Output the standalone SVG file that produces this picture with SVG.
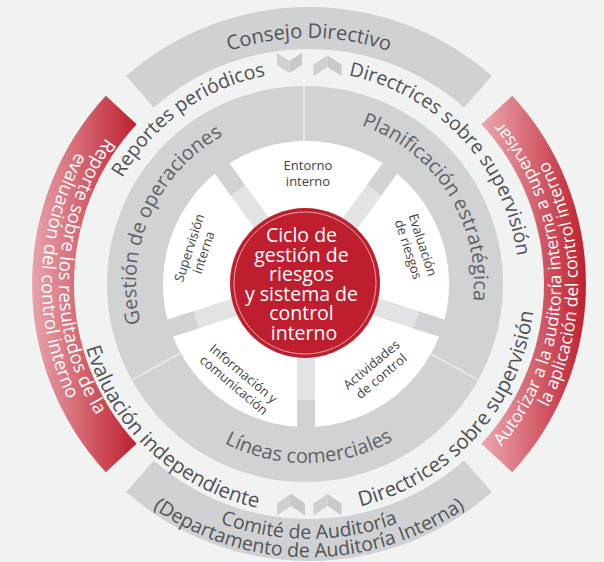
<svg xmlns="http://www.w3.org/2000/svg" width="604" height="562" viewBox="0 0 604 562">
<style>
text{font-family:"Open Sans","Noto Sans","Liberation Sans",sans-serif;}
.band{fill:#d0d1d3}
.t-band{font-size:20px;fill:#535457}
.t-ring{fill:#4f5053}
.t-disk{font-size:20px;fill:#616265}
.t-red{fill:#ffffff}
.petal{fill:#ffffff}
.t-petal{font-size:13px;fill:#3f3f41}
.div{stroke:#e6e7e8;stroke-width:2;fill:none}
.chev-l{fill:#cfd0d2}
.chev-r{fill:#c8c9cb}
</style>
<defs>
<linearGradient id="gL" gradientUnits="userSpaceOnUse" x1="30" y1="0" x2="138" y2="0">
<stop offset="0" stop-color="#e9a6ae"/><stop offset="1" stop-color="#be1e2d"/>
</linearGradient>
<linearGradient id="gR" gradientUnits="userSpaceOnUse" x1="480" y1="0" x2="588" y2="0">
<stop offset="0" stop-color="#eba9b1"/><stop offset="1" stop-color="#be1e2d"/>
</linearGradient>
<path id="p-consejo" d="M66.7,241.3 A246,246 0 0 1 551.3,241.3"/>
<path id="p-comite1" d="M57.9,328.3 A255,255 0 0 0 560.1,328.3"/>
<path id="p-comite2" d="M40.1,331.4 A273,273 0 0 0 577.9,331.4"/>
<path id="p-reportes" d="M114.6,375.3 A212,212 0 0 1 454.6,132.8"/>
<path id="p-dir1" d="M190,105.4 A213,213 0 0 1 476.1,412.2"/>
<path id="p-eval" d="M113.9,159.3 A229,229 0 0 0 443.8,466.9"/>
<path id="p-dir2" d="M186,479 A229,229 0 0 0 485.5,141.8"/>
<path id="p-gestion" d="M211.7,425.4 A170,170 0 0 1 346.3,118.8"/>
<path id="p-plan" d="M241.7,128.8 A168,168 0 0 1 419.5,407.9"/>
<path id="p-lineas" d="M130.3,318.2 A179,179 0 0 0 482.8,312"/>
<path id="p-left1" d="M274.2,36.4 A250,250 0 0 0 257,528.5"/>
<path id="p-left2" d="M271.8,19.6 A267,267 0 0 0 253.5,545.2"/>
<path id="p-right1" d="M352.7,532.2 A252,252 0 0 0 352.7,35.8"/>
<path id="p-right2" d="M355.7,548.9 A269,269 0 0 0 355.7,19.1"/>
</defs>

<rect width="604" height="562" fill="#f1f2f2"/>

<g id="consejo-directivo">
<path class="band" d="M126.2,75.9 A277,277 0 0 1 491.8,75.9 L464.1,107.4 A235,235 0 0 0 153.9,107.4 Z"/>
<text class="t-band" text-anchor="middle"><textPath href="#p-consejo" startOffset="50%">Consejo Directivo</textPath></text>
</g>

<g id="comite-auditoria">
<path class="band" d="M153.9,460.6 A235,235 0 0 0 464.1,460.6 L491.8,492.1 A277,277 0 0 1 126.2,492.1 Z"/>
<text class="t-band" style="font-size:19.5px" text-anchor="middle"><textPath href="#p-comite1" startOffset="50%">Comité de Auditoría</textPath></text>
<text class="t-band" style="font-size:19.5px" text-anchor="middle"><textPath href="#p-comite2" startOffset="50%">(Departamento de Auditoría Interna)</textPath></text>
</g>

<g id="reporte-evaluacion">
<path fill="url(#gL)" d="M105.8,95.8 A277,277 0 0 0 105.8,472.2 L136.6,443.7 A235,235 0 0 1 136.6,124.3 Z"/>
<text class="t-red" style="font-size:18.5px" text-anchor="middle"><textPath href="#p-left1" startOffset="50%">Reporte sobre los resultados de la</textPath></text>
<text class="t-red" style="font-size:18.5px" text-anchor="middle"><textPath href="#p-left2" startOffset="50%">evaluación del control interno</textPath></text>
</g>

<g id="autorizar-auditoria">
<path fill="url(#gR)" d="M512.2,95.8 A277,277 0 0 1 512.2,472.2 L481.4,443.7 A235,235 0 0 0 481.4,124.3 Z"/>
<text class="t-red" style="font-size:17.5px" text-anchor="middle"><textPath href="#p-right1" startOffset="50%">Autorizar a la auditoría interna a supervisar</textPath></text>
<text class="t-red" style="font-size:17.5px" text-anchor="middle"><textPath href="#p-right2" startOffset="50%">la aplicación del control interno</textPath></text>
</g>

<g id="flujos-anillo">
<text class="t-ring" style="font-size:19.5px" text-anchor="middle"><textPath href="#p-reportes" startOffset="50%">Reportes periódicos</textPath></text>
<text class="t-ring" style="font-size:19.5px" text-anchor="middle"><textPath href="#p-dir1" startOffset="50%">Directrices sobre supervisión</textPath></text>
<text class="t-ring" style="font-size:20.5px" text-anchor="middle"><textPath href="#p-eval" startOffset="50%">Evaluación independiente</textPath></text>
<text class="t-ring" style="font-size:20.5px" text-anchor="middle"><textPath href="#p-dir2" startOffset="50%">Directrices sobre supervisión</textPath></text>
</g>

<g id="disco-gris">
<circle cx="305" cy="284" r="198" fill="#d0d2d3"/>
<circle cx="306" cy="284" r="116" fill="#e2e3e4"/>
<text class="t-disk" text-anchor="middle"><textPath href="#p-gestion" startOffset="50%">Gestión de operaciones</textPath></text>
<text class="t-disk" text-anchor="middle"><textPath href="#p-plan" startOffset="50%">Planificación estratégica</textPath></text>
<text class="t-disk" text-anchor="middle"><textPath href="#p-lineas" startOffset="50%">Líneas comerciales</textPath></text>
</g>

<g id="connectors">
<line class="div" x1="304" y1="141" x2="304" y2="86"/>
<line class="div" x1="430.1" y1="353.3" x2="479" y2="380.5"/>
<line class="div" x1="179.9" y1="353.3" x2="131" y2="380.5"/>
<polygon class="chev-l" points="277,53 289.5,61 289.5,73 277,65"/>
<polygon class="chev-r" points="289.5,61 302,53 302,65 289.5,73"/>
<polygon class="chev-l" points="313.5,64.5 327.5,55.5 327.5,67 313.5,76"/>
<polygon class="chev-r" points="327.5,55.5 341.5,64.5 341.5,76 327.5,67"/>
<polygon class="chev-l" points="277,503.5 291,494 291,506 277,515.5"/>
<polygon class="chev-r" points="291,494 305,503.5 305,515.5 291,506"/>
<polygon class="chev-l" points="313.5,503.5 327.5,494 327.5,506 313.5,515.5"/>
<polygon class="chev-r" points="327.5,494 341.5,503.5 341.5,515.5 327.5,506"/>
</g>

<g id="entorno-interno">
<path class="petal" d="M229.39,163.25 A143,143 0 0 1 382.61,163.25 L306,268.69 Z"/>
<text class="t-petal" text-anchor="middle"><tspan x="308" y="170">Entorno</tspan><tspan x="308" y="185.5">interno</tspan></text>
</g>
<g id="evaluacion-riesgos">
<path class="petal" d="M397.17,173.83 A143,143 0 0 1 444.52,319.54 L320.56,279.27 Z"/>
<text class="t-petal" text-anchor="middle" transform="translate(416,247) rotate(72)"><tspan x="0" y="-2.5">Evaluación</tspan><tspan x="0" y="12.5">de riesgos</tspan></text>
</g>
<g id="actividades-control">
<path class="petal" d="M438.96,336.66 A143,143 0 0 1 315,426.72 L315,296.39 Z"/>
<text class="t-petal" text-anchor="middle" transform="translate(376,370) rotate(-40)"><tspan x="0" y="-2.5">Actividades</tspan><tspan x="0" y="12.5">de control</tspan></text>
</g>
<g id="informacion-comunicacion">
<path class="petal" d="M297,426.72 A143,143 0 0 1 173.04,336.66 L297,296.39 Z"/>
<text class="t-petal" text-anchor="middle" transform="translate(239,379) rotate(40)"><tspan x="0" y="-2.5">Información y</tspan><tspan x="0" y="12.5">comunicación</tspan></text>
</g>
<g id="supervision-interna">
<path class="petal" d="M167.48,319.54 A143,143 0 0 1 214.83,173.83 L291.44,279.27 Z"/>
<text class="t-petal" text-anchor="middle" transform="translate(196,250) rotate(-72)"><tspan x="0" y="-2.5">Supervisión</tspan><tspan x="0" y="12.5">interna</tspan></text>
</g>

<g id="ciclo-central">
<circle cx="305" cy="283" r="75" fill="#be1e2d"/>
<circle cx="305" cy="283" r="71" fill="none" stroke="#ffffff" stroke-opacity="0.75" stroke-width="0.8"/>
<text fill="#ffffff" style="font-size:19.5px" text-anchor="middle">
<tspan x="304" y="242">Ciclo de</tspan>
<tspan x="304" y="261.5">gestión de</tspan>
<tspan x="304" y="281">riesgos</tspan>
<tspan x="304" y="300.5">y sistema de</tspan>
<tspan x="304" y="320">control</tspan>
<tspan x="304" y="339.5">interno</tspan>
</text>
</g>
</svg>
